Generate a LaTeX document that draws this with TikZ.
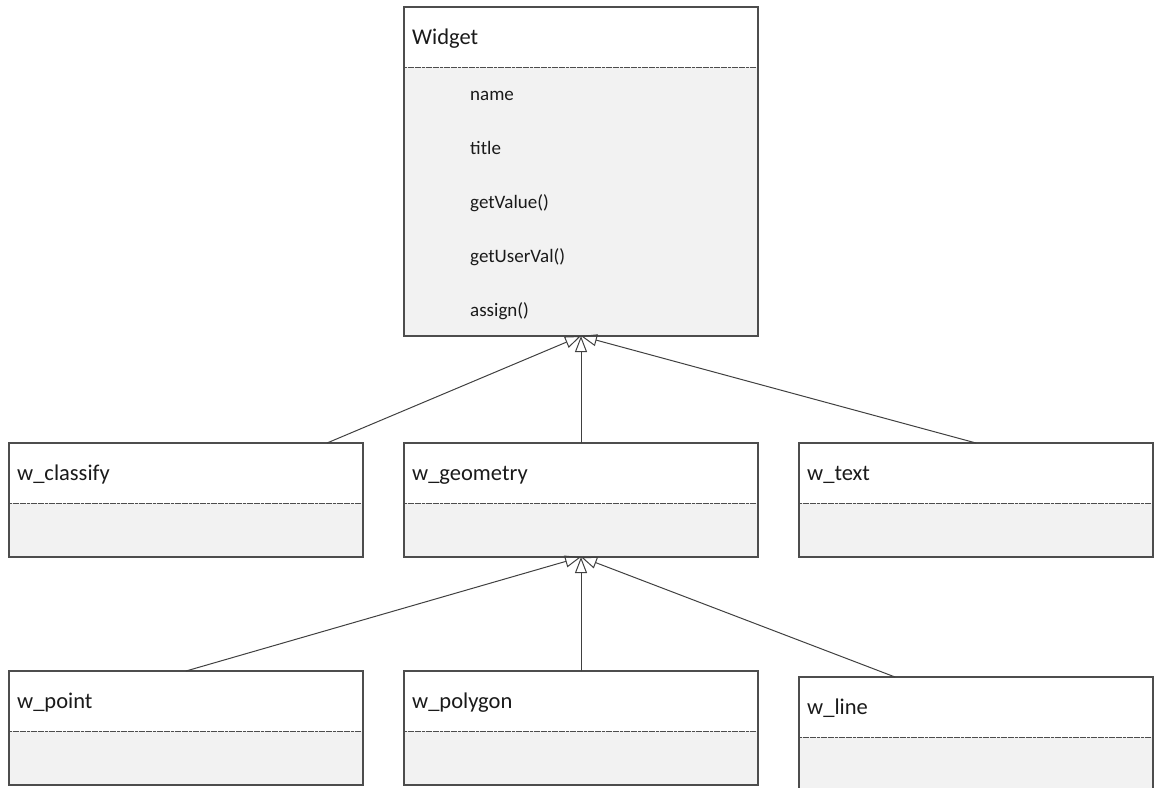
\documentclass[tikz,border=0pt]{standalone}
\usepackage{fontspec}
\setmainfont{Carlito}
\usetikzlibrary{arrows.meta,calc}

\definecolor{bodygray}{HTML}{F2F2F2}
\definecolor{edgegray}{HTML}{4D4D4D}
\definecolor{linkgray}{HTML}{404040}
\definecolor{textdark}{HTML}{1A1A1A}

\tikzset{
  classframe/.style={draw=edgegray, line width=1.1pt, fill=bodygray,
    inner sep=0pt, outer sep=0pt, anchor=north west, minimum width=354pt},
  separator/.style={draw=edgegray, line width=0.9pt, dash pattern=on 3pt off 0.6pt},
  classtitle/.style={anchor=west, inner sep=0pt, text=textdark,
    font=\fontsize{22.5}{26}\selectfont, text height=0.7em, text depth=0.2em},
  member/.style={anchor=west, inner sep=0pt, text=textdark,
    font=\fontsize{19}{23}\selectfont, text height=0.7em, text depth=0.2em},
  inherits/.style={draw=linkgray, line width=1pt,
    -{Triangle[open, length=16pt, width=12pt, line width=1pt]}}
}

% #1 node name, #2 left, #3 top, #4 total height, #5 title
\newcommand{\classbox}[5]{%
  \node[classframe, minimum height=#4] (#1) at (#2,#3) {};
  \fill[white] (#1.north west) rectangle ($(#1.north east)+(0,60)$);
  \draw[separator] ($(#1.north west)+(0,60)$) -- ($(#1.north east)+(0,60)$);
  \draw[edgegray, line width=1.1pt] (#1.north west) rectangle (#1.south east);
  \node[classtitle] (#1-title) at ($(#1.north west)+(8,35)$) {#5};
}

\begin{document}
\begin{tikzpicture}[x=1pt, y=-1pt]
\useasboundingbox (0,0) rectangle (1159,787);
\clip (0,0) rectangle (1159,787);

% base class
\classbox{widget}{404}{7}{329}{Widget}
\node[member] (m-name)   at (470,98)  {name};
\node[member] (m-title)  at (470,152) {title};
\node[member] (m-value)  at (470,206) {getValue()};
\node[member] (m-user)   at (470,260) {getUserVal()};
\node[member] (m-assign) at (470,314) {assign()};

% first level
\classbox{classify}{9}{443}{114}{w\_classify}
\classbox{geometry}{404}{443}{114}{w\_geometry}
\classbox{text}{799}{443}{114}{w\_text}

% second level
\classbox{point}{9}{671}{114}{w\_point}
\classbox{polygon}{404}{671}{114}{w\_polygon}
\classbox{line}{799}{677}{114}{w\_line}

% generalisation links
\coordinate (classify-top) at ($(classify.north west)+(318,0)$);
\coordinate (line-top) at ($(line.north west)+(96,0)$);
\draw[inherits] (classify-top) -- (widget.south);
\draw[inherits] (geometry.north) -- (widget.south);
\draw[inherits] (text.north) -- (widget.south);
\draw[inherits] (point.north) -- (geometry.south);
\draw[inherits] (polygon.north) -- (geometry.south);
\draw[inherits] (line-top) -- (geometry.south);
\end{tikzpicture}
\end{document}
